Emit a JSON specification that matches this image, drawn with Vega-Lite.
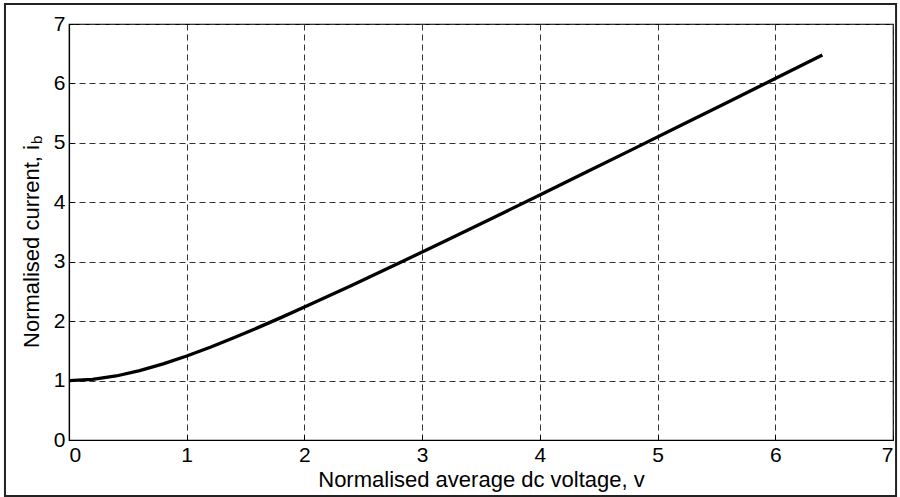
{
  "$schema": "https://vega.github.io/schema/vega-lite/v6.json",
  "width": 824,
  "height": 416,
  "autosize": {"type": "none"},
  "padding": {"left": 69, "top": 24, "right": 7, "bottom": 57},
  "background": "white",
  "config": {
    "view": {"stroke": "black", "strokeWidth": 1.2},
    "font": "Liberation Sans",
    "axis": {
      "domainColor": "black",
      "domainWidth": 1.2,
      "tickColor": "black",
      "tickSize": -5,
      "labelColor": "black",
      "titleColor": "black",
      "labelFont": "Liberation Sans",
      "titleFont": "Liberation Sans",
      "labelFontSize": 21,
      "titleFontSize": 22,
      "titleFontWeight": "normal",
      "gridColor": "#333333",
      "gridDash": [6, 4],
      "gridWidth": 1,
      "gridOpacity": 1
    }
  },
  "data": {
    "values": [
      {"v": 0.0, "i": 1.0},
      {"v": 0.2, "i": 1.0198},
      {"v": 0.4, "i": 1.077},
      {"v": 0.6, "i": 1.1662},
      {"v": 0.8, "i": 1.2806},
      {"v": 1.0, "i": 1.4142},
      {"v": 1.2, "i": 1.562},
      {"v": 1.4, "i": 1.7205},
      {"v": 1.6, "i": 1.8868},
      {"v": 1.8, "i": 2.0591},
      {"v": 2.0, "i": 2.2361},
      {"v": 2.4, "i": 2.6},
      {"v": 2.8, "i": 2.9732},
      {"v": 3.2, "i": 3.3526},
      {"v": 3.6, "i": 3.7363},
      {"v": 4.0, "i": 4.1231},
      {"v": 4.4, "i": 4.5122},
      {"v": 4.8, "i": 4.9031},
      {"v": 5.2, "i": 5.2953},
      {"v": 5.6, "i": 5.6886},
      {"v": 6.0, "i": 6.0828},
      {"v": 6.4, "i": 6.4777}
    ]
  },
  "layer": [
    {
      "mark": {"type": "line", "color": "black", "strokeWidth": 3.3, "clip": true},
      "encoding": {
        "x": {
          "field": "v", "type": "quantitative",
          "scale": {"domain": [0, 7], "nice": false, "zero": false},
          "axis": {"values": [0, 1, 2, 3, 4, 5, 6, 7], "format": "d", "title": "Normalised average dc voltage, v", "labelPadding": 9, "titleY": 46, "titleBaseline": "alphabetic"}
        },
        "y": {
          "field": "i", "type": "quantitative",
          "scale": {"domain": [0, 7], "nice": false, "zero": false},
          "axis": {"values": [0, 1, 2, 3, 4, 5, 6, 7], "format": "d", "title": "Normalised current, i", "labelPadding": 9, "titleX": -31, "titleY": 222, "titleBaseline": "alphabetic"}
        }
      }
    },
    {
      "data": {"values": [{"x1": -0.544, "x2": 7.026, "y1": -0.942, "y2": 7.337}]},
      "mark": {"type": "rect", "fill": null, "fillOpacity": 0, "stroke": "#222222", "strokeWidth": 2, "clip": false},
      "encoding": {
        "x": {"field": "x1", "type": "quantitative"},
        "x2": {"field": "x2"},
        "y": {"field": "y1", "type": "quantitative"},
        "y2": {"field": "y2"}
      }
    },
    {
      "data": {"values": [{"x": -0.229, "y": 4.98, "t": "b"}]},
      "mark": {"type": "text", "angle": 270, "fontSize": 15, "font": "Liberation Sans", "color": "black", "clip": false, "align": "left", "baseline": "alphabetic"},
      "encoding": {
        "x": {"field": "x", "type": "quantitative"},
        "y": {"field": "y", "type": "quantitative"},
        "text": {"field": "t"}
      }
    }
  ]
}
